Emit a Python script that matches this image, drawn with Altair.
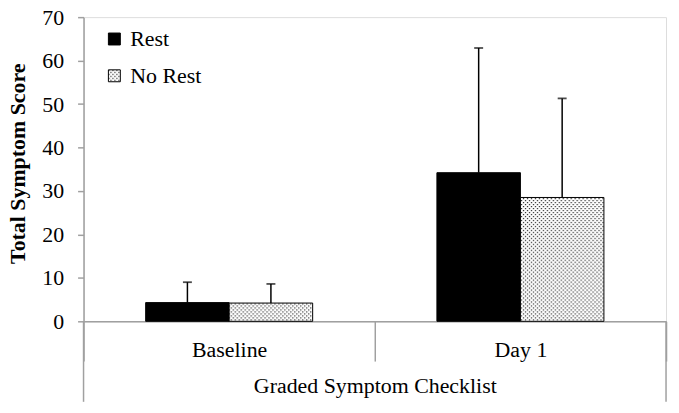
import altair as alt
import pandas as pd
import jinja2

categories = ["Baseline", "Baseline", "Day 1", "Day 1"]
groups = ["Rest", "No Rest", "Rest", "No Rest"]
means = [4.3, 4.2, 34.2, 28.5]
errors = [4.7, 4.4, 28.7, 22.8]

cat_order = ["Baseline", "Day 1"]
group_order = ["Rest", "No Rest"]
y_ticks = [0, 10, 20, 30, 40, 50, 60, 70]

df = pd.DataFrame({"category": categories, "group": groups, "mean": means, "err": errors})
df["upper"] = df["mean"] + df["err"]

FONT = "'Times New Roman', 'Liberation Serif', 'DejaVu Serif', serif"
AXIS_GRAY = "#a0a0a0"
FS = 22
# stippled fill: SVG pattern defined in the page, with a light-gray fallback
DOTS_FILL = "url(#dots) #dadada"

x_enc = alt.X(
    "category:N",
    sort=cat_order,
    scale=alt.Scale(domain=cat_order, paddingInner=0, paddingOuter=0),
    axis=alt.Axis(
        title="Graded Symptom Checklist",
        titleFont=FONT, titleFontSize=FS, titleFontWeight="normal", titleColor="black",
        titleBaseline="alphabetic", titleX=293, titleY=72, titleAlign="center",
        labelFont=FONT, labelFontSize=FS, labelColor="black", labelAngle=0,
        labelBaseline="alphabetic", labelPadding=-5,
        tickBand="extent", tickSize=40, tickColor=AXIS_GRAY, tickWidth=1.5,
        domainColor=AXIS_GRAY, domainWidth=1.5,
    ),
)
xoff = alt.XOffset(
    "group:N", sort=group_order,
    scale=alt.Scale(domain=group_order, paddingOuter=0.744, paddingInner=0),
)
y_scale = alt.Scale(domain=[0, 70], nice=False)

base = alt.Chart(df)

bars = base.mark_bar(stroke="black", strokeWidth=1).encode(
    x=x_enc,
    xOffset=xoff,
    y=alt.Y(
        "mean:Q",
        scale=y_scale,
        axis=alt.Axis(
            title="Total Symptom Score", values=y_ticks,
            titleFont=FONT, titleFontSize=FS, titleFontWeight="bold", titleColor="black",
            titleAngle=-90, titleBaseline="alphabetic", titleAlign="center",
            titleX=-59, titleY=147,
            labelFont=FONT, labelFontSize=FS, labelColor="black", labelPadding=14,
            tickSize=6, tickColor=AXIS_GRAY, tickWidth=1.5,
            domainColor=AXIS_GRAY, domainWidth=1.5, grid=False,
        ),
    ),
    fill=alt.Fill(
        "group:N",
        sort=group_order,
        scale=alt.Scale(domain=group_order, range=["#000000", DOTS_FILL]),
        legend=alt.Legend(
            title=None, orient="none", legendX=20, legendY=11,
            symbolType="square", symbolSize=144, symbolStrokeColor="black",
            symbolStrokeWidth=1, labelFont=FONT, labelFontSize=FS,
            labelColor="black", labelOffset=5, rowPadding=15, padding=0,
        ),
    ),
)

err_rules = base.mark_rule(color="black", strokeWidth=1.5).encode(
    x=alt.X("category:N", sort=cat_order),
    xOffset=xoff,
    y=alt.Y("mean:Q", scale=y_scale),
    y2="upper:Q",
)

caps = base.mark_tick(color="black", thickness=1.8, size=9, orient="horizontal").encode(
    x=alt.X("category:N", sort=cat_order),
    xOffset=xoff,
    y=alt.Y("upper:Q", scale=y_scale),
)

deco = alt.Chart(alt.Data(values=[{}]))
left_line = deco.mark_rule(color=AXIS_GRAY, strokeWidth=1.5).encode(
    x=alt.value(0), y=alt.value(306), y2=alt.value(387)
)
right_line = deco.mark_rule(color=AXIS_GRAY, strokeWidth=1.5).encode(
    x=alt.value(586), y=alt.value(306), y2=alt.value(387)
)

chart = alt.layer(bars, err_rules, caps, left_line, right_line).properties(
    width=586, height=306,
    autosize=alt.AutoSizeParams(type="none"),
    padding={"left": 76, "top": 8, "right": 5, "bottom": 83},
).configure_view(stroke=None).configure(background="white")

DEFS = (
    '<svg width="0" height="0" style="position:absolute;left:0;top:0">'
    '<defs><pattern id="dots" patternUnits="userSpaceOnUse" width="4" height="4">'
    '<rect width="4" height="4" fill="white"/>'
    '<rect x="0" y="0" width="1.2" height="1.2" fill="#222"/>'
    '<rect x="2" y="2" width="1.2" height="1.2" fill="#222"/>'
    '</pattern></defs></svg>'
)

try:
    from altair.utils.html import TEMPLATES

    class DotsTemplate(jinja2.Template):
        def render(self, *args, **kwargs):
            html = TEMPLATES["standard"].render(*args, **kwargs)
            if "<body>" in html:
                return html.replace("<body>", "<body>\n" + DEFS, 1)
            return DEFS + html

    tmpl = DotsTemplate("x")
    chart.save("out.html", embed_options={"renderer": "svg", "actions": False}, template=tmpl)
except Exception:
    chart.save("out.html", embed_options={"renderer": "svg", "actions": False})
